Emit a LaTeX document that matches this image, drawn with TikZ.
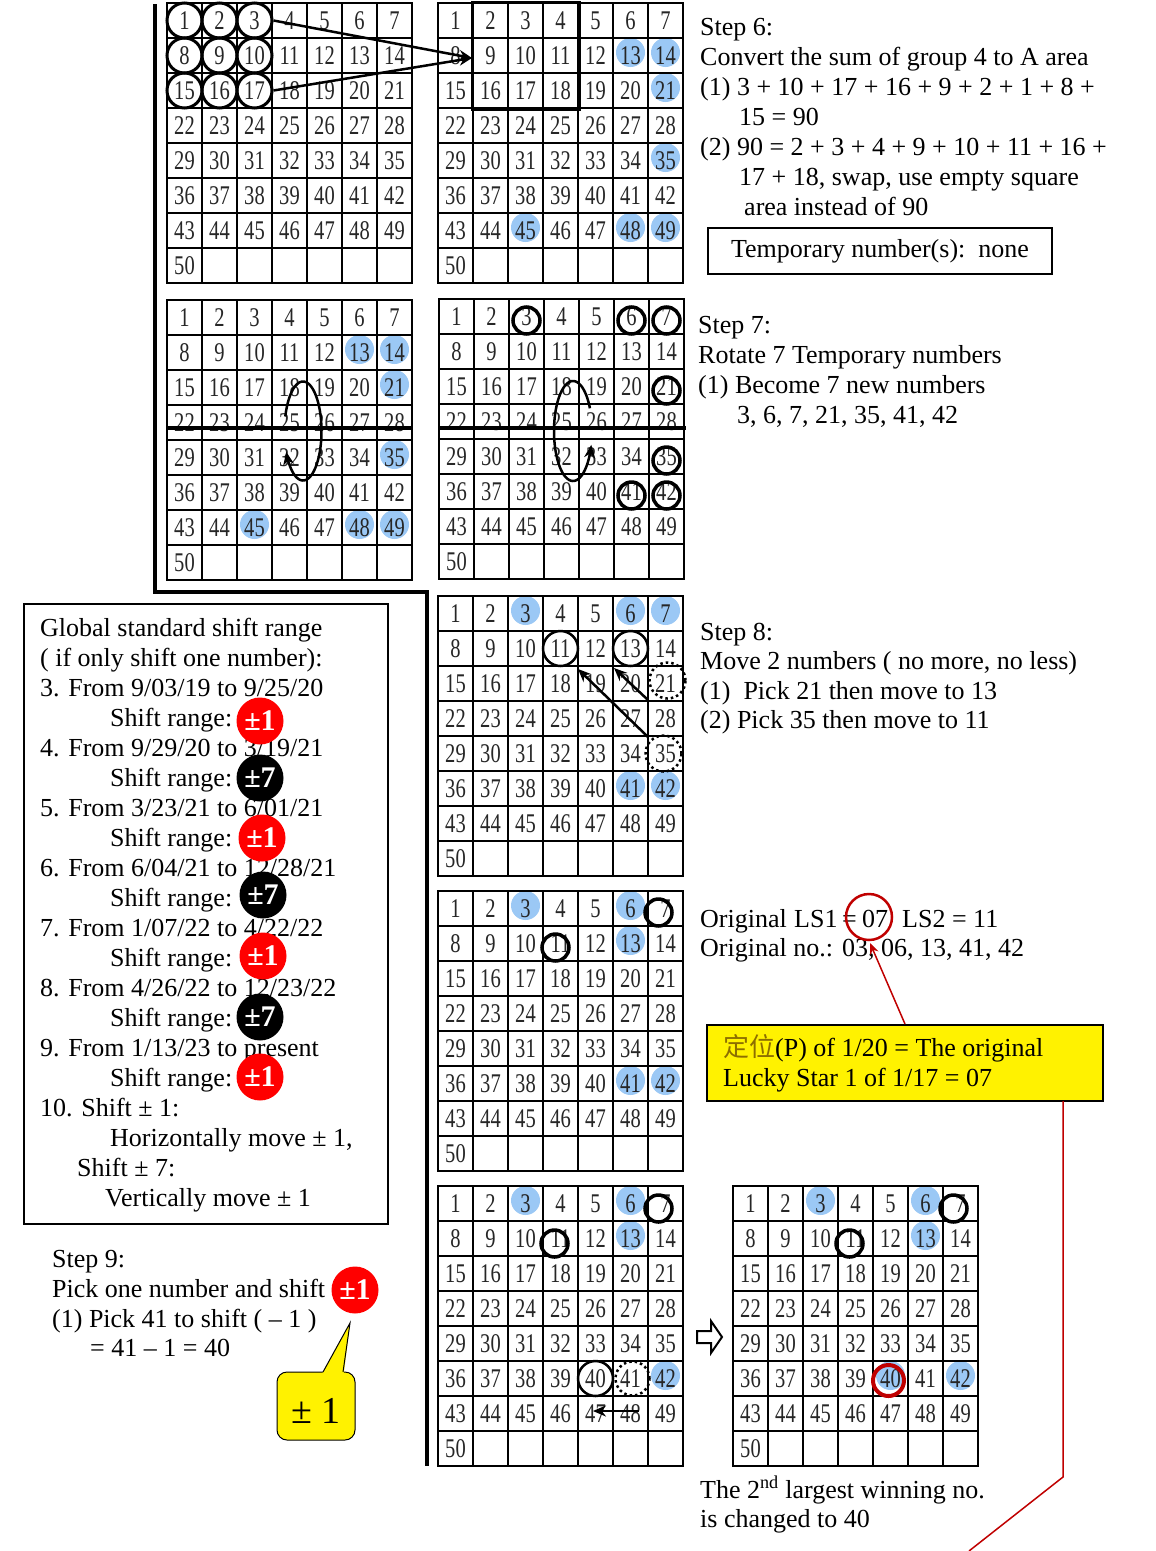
\documentclass[tikz,border=0pt]{standalone}
\usepackage{fontspec}
\setmainfont{Liberation Serif}
\newfontfamily\gridfont[FakeStretch=0.76]{Liberation Serif}
\newfontfamily\cjkfont{Noto Sans CJK TC}
\usetikzlibrary{arrows.meta,calc}
\pgfdeclarelayer{back}\pgfdeclarelayer{bg}
\pgfsetlayers{back,bg,main}
\definecolor{lblue}{RGB}{155,200,245}
\definecolor{dred}{RGB}{192,0,0}
\definecolor{olivec}{RGB}{140,110,0}
\newcommand{\numgrid}[4]{%
  \foreach \r in {0,...,7}{%
    \foreach \c in {0,...,6}{%
      \pgfmathtruncatemacro{\n}{\r*7+\c+1}%
      \ifnum\n>50\relax
        \node[cell, line width=#4] (#1-\n) at ({#2+\c*35+17.5},{#3+\r*35+17.5}) {};%
      \else
        \node[cell, line width=#4] (#1-\n) at ({#2+\c*35+17.5},{#3+\r*35+17.5}) {\n};%
      \fi
    }%
  }%
}
\newcommand{\bl}[2]{\node[bluedot] (bl-#1-#2) at ([yshift=3pt]#1-#2) {};}
\begin{document}
\begin{tikzpicture}[x=1pt,y=-1pt,
  cell/.style={draw, minimum width=35pt, minimum height=35pt, inner sep=0pt, text depth=0pt, text=black!85, font=\gridfont\fontsize{27}{27}\selectfont},
  bluedot/.style={circle, fill=lblue, minimum size=29pt, inner sep=0pt},
  ring/.style={circle, draw, line width=2.5pt, minimum size=35pt, inner sep=0pt},
  sring/.style={circle, draw, line width=3.5pt, minimum size=27pt, inner sep=0pt},
  dring/.style={circle, draw, line width=2.5pt, dash pattern=on 2.5pt off 3pt, minimum size=36pt, inner sep=0pt},
  txt/.style={anchor=base west, inner sep=0pt, font=\fontsize{26}{30}\selectfont},
  badge/.style={circle, minimum size=47pt, inner sep=0pt, text=white, font=\bfseries\fontsize{30}{30}\selectfont},
  arr/.style={-{Stealth[length=13pt,width=11pt]}, line width=2.5pt},
]
\useasboundingbox (0,0) rectangle (1156,1551);
\begin{pgfonlayer}{back}\fill[white] (0,0) rectangle (1156,1551);\end{pgfonlayer}

% grids
\numgrid{g1}{167}{3}{1.2pt}
\numgrid{g2}{438}{3}{1.5pt}
\numgrid{g3}{167}{300}{1.4pt}
\numgrid{g4}{439}{299}{2pt}
\numgrid{g5}{438}{596}{1.5pt}
\numgrid{g6}{438}{891}{1.5pt}
\numgrid{g7}{438}{1186}{1.8pt}
\numgrid{g8}{733}{1186}{2pt}

% blue marks
\begin{pgfonlayer}{bg}
\foreach \k in {13,14,21,35,45,48,49}{\bl{g2}{\k}\bl{g3}{\k}}
\foreach \k in {3,6,7,41,42}{\bl{g5}{\k}}
\foreach \k in {3,6,13,41,42}{\bl{g6}{\k}}
\foreach \k in {3,6,13,42}{\bl{g7}{\k}}
\foreach \k in {3,6,13,40,42}{\bl{g8}{\k}}
\end{pgfonlayer}

% separators
\draw[line width=4pt] (155,4) -- (155,592) -- (427,592) -- (427,1466);

% step 6 marks
\foreach \k in {1,2,3,8,9,10,15,16,17}{\node[ring, line width=3pt] (r1-\k) at (g1-\k) {};}
\coordinate (g1tip) at (472,58);
\draw[arr] (r1-3.east) -- (g1tip);
\draw[arr] (r1-17.east) -- (g1tip);
\draw[line width=3.5pt] (g2-2.north west) rectangle (g2-18.south east);

% step 7 marks
\draw[line width=3.5pt] (167,428) -- (411,428);
\draw[line width=3.5pt] (439,428) -- (686,428);
\draw[arr, line width=2.5pt] plot[domain=0:318, samples=90] ({303+18.5*cos(197+\x)},{431+49.5*sin(197+\x)});
\draw[arr, line width=2.5pt] plot[domain=0:317, samples=90] ({573+19*cos(333-\x)},{431+50*sin(333-\x)});
\foreach \k in {3,6,7,21,35,41,42}{\node[sring] (r4-\k) at ([shift={(0,4)}]g4-\k) {};}

% step 8 marks
\node[ring] (r5-11) at (g5-11) {};
\node[ring] (r5-13) at (g5-13) {};
\node[dring] (d5-21) at ([shift={(2,-3)}]g5-21) {};
\node[dring] (d5-35) at ([shift={(-2,0)}]g5-35) {};
\coordinate (a1s) at (648,700); \coordinate (a1e) at (614,668);
\coordinate (a2s) at (648,737); \coordinate (a2e) at (578,669);
\draw[arr] (a1s) -- (a1e);
\draw[arr] (a2s) -- (a2e);

% original grid
\node[sring] (r6-7) at ([shift={(-7,4)}]g6-7) {};
\node[sring] (r6-11) at ([shift={(-5,4)}]g6-11) {};

% step 9 marks
\node[sring] (r7-7) at ([shift={(-7,5)}]g7-7) {};
\node[sring] (r7-11) at ([shift={(-6,5)}]g7-11) {};
\node[ring] (r7-40) at (g7-40) {};
\node[dring, minimum size=34pt] (d7-41) at ([shift={(2,0)}]g7-41) {};
\coordinate (a3s) at (639,1411); \coordinate (a3e) at (593,1411);
\draw[arr] (a3s) -- (a3e);
\node[sring] (r8-7) at ([shift={(-7,5)}]g8-7) {};
\node[sring] (r8-11) at ([shift={(-6,5)}]g8-11) {};
\node[circle, draw=dred, line width=4pt, minimum size=31pt, inner sep=0pt] (r8-40) at ([shift={(-2,2)}]g8-40) {};
\draw[line width=2pt, fill=white] (697,1331) -- (711,1331) -- (711,1321) -- (722,1337) -- (711,1353) -- (711,1343) -- (697,1343) -- cycle;

% step 6 text
\node[txt] (s6a) at (700,35) {Step 6:};
\node[txt] (s6b) at (700,65) {Convert the sum of group 4 to A area};
\node[txt] (s6c) at (700,95) {(1) 3 + 10 + 17 + 16 + 9 + 2 + 1 + 8 +};
\node[txt] (s6d) at (739,125) {15 = 90};
\node[txt] (s6e) at (700,155) {(2) 90 = 2 + 3 + 4 + 9 + 10 + 11 + 16 +};
\node[txt] (s6f) at (739,185) {17 + 18, swap, use empty square};
\node[txt] (s6g) at (744,215) {area instead of 90};
\node[draw, line width=2pt, minimum width=344pt, minimum height=46pt, font=\fontsize{26}{30}\selectfont] (tmpbox) at (880,251) {Temporary number(s):\ \ none};

% step 7 text
\node[txt] (s7a) at (698,333) {Step 7:};
\node[txt] (s7b) at (698,363) {Rotate 7 Temporary numbers};
\node[txt] (s7c) at (698,393) {(1) Become 7 new numbers};
\node[txt] (s7d) at (737,423) {3, 6, 7, 21, 35, 41, 42};

% step 8 text
\node[txt] (s8a) at (700,640) {Step 8:};
\node[txt] (s8b) at (700,669) {Move 2 numbers ( no more, no less)};
\node[txt] (s8c) at (700,699) {(1)\ \ Pick 21 then move to 13};
\node[txt] (s8d) at (700,728) {(2) Pick 35 then move to 11};

% original
\node[txt] (o1a) at (700,927) {Original};
\node[txt] (o1b) at (794,927) {LS1};
\node[txt] (o1e) at (842,927) {=};
\node[txt] (o1c) at (862,927) {07};
\node[txt] (o1d) at (902,927) {LS2 = 11};
\node[txt] (o2a) at (700,956) {Original no.:};
\node[txt] (o2b) at (842,956) {03, 06, 13, 41, 42};
\node[circle, draw=dred, line width=2.5pt, minimum size=46pt, inner sep=0pt] (ls1) at (869,917) {};
\node[draw, line width=2pt, fill=yellow, minimum width=396pt, minimum height=76pt] (yb) at (905,1063) {};
\node[txt] (y1) at (723,1056) {{\cjkfont\color{olivec}定位}(P) of 1/20 = The original};
\node[txt] (y2) at (723,1086) {Lucky Star 1 of 1/17 = 07};
\coordinate (ytip) at (870,943);
\draw[dred, line width=1.5pt, -{Stealth[length=11pt,width=9pt]}] (yb.north) -- (ytip);
\coordinate (rl0) at (1063,1101);
\draw[dred, line width=1.5pt] (rl0) -- (1063,1477) -- (969,1551);
\node[txt] (b1) at (700,1498) {The 2\textsuperscript{nd} largest winning no.};
\node[txt] (b2) at (700,1527) {is changed to 40};

% left box
\node[draw, line width=2pt, minimum width=364pt, minimum height=620pt] (lbox) at (205.5,914) {};
\node[txt] (l0) at (40,636) {Global standard shift range};
\node[txt] (l1) at (40,666) {( if only shift one number):};
\node[txt] (l2) at (40,696) {3. From 9/03/19 to 9/25/20};
\node[txt] (l3) at (110,726) {Shift range:};
\node[txt] (l4) at (40,756) {4. From 9/29/20 to 3/19/21};
\node[txt] (l5) at (110,786) {Shift range:};
\node[txt] (l6) at (40,816) {5. From 3/23/21 to 6/01/21};
\node[txt] (l7) at (110,846) {Shift range:};
\node[txt] (l8) at (40,876) {6. From 6/04/21 to 12/28/21};
\node[txt] (l9) at (110,906) {Shift range:};
\node[txt] (l10) at (40,936) {7. From 1/07/22 to 4/22/22};
\node[txt] (l11) at (110,966) {Shift range:};
\node[txt] (l12) at (40,996) {8. From 4/26/22 to 12/23/22};
\node[txt] (l13) at (110,1026) {Shift range:};
\node[txt] (l14) at (40,1056) {9. From 1/13/23 to present};
\node[txt] (l15) at (110,1086) {Shift range:};
\node[txt] (l16) at (40,1116) {10. Shift ± 1:};
\node[txt] (l17) at (110,1146) {Horizontally move ± 1,};
\node[txt] (l18) at (77,1176) {Shift ± 7:};
\node[txt] (l19) at (105,1206) {Vertically move ± 1};
\node[badge, fill=red] (bd1) at (260,721) {±1};
\node[badge, fill=black] (bd2) at (260,778) {±7};
\node[badge, fill=red] (bd3) at (262,838) {±1};
\node[badge, fill=black] (bd4) at (263,895) {±7};
\node[badge, fill=red] (bd5) at (263,956) {±1};
\node[badge, fill=black] (bd6) at (260,1017) {±7};
\node[badge, fill=red] (bd7) at (260,1077) {±1};

% step 9 text
\node[txt] (s9a) at (52,1267) {Step 9:};
\node[txt] (s9b) at (52,1297) {Pick one number and shift};
\node[txt] (s9c) at (52,1327) {(1) Pick 41 to shift ( – 1 )};
\node[txt] (s9d) at (90,1356) {= 41 – 1 = 40};
\node[badge, fill=red] (bd8) at (355,1290) {±1};
\node[draw, fill=yellow, line width=1pt, rounded corners=10pt, minimum width=78pt, minimum height=68pt] (cb) at (316,1406) {};
\fill[yellow] (322.4,1373.2) -- (350,1323) -- (343.8,1373.2) -- cycle;
\coordinate (cbtip) at (350,1323);
\draw[line width=1pt] (323,1372) -- (cbtip) -- (343,1372);
\node[anchor=base, inner sep=0pt, font=\fontsize{38}{38}\selectfont] (cbt) at (316,1423) {± 1};
\end{tikzpicture}
\end{document}
